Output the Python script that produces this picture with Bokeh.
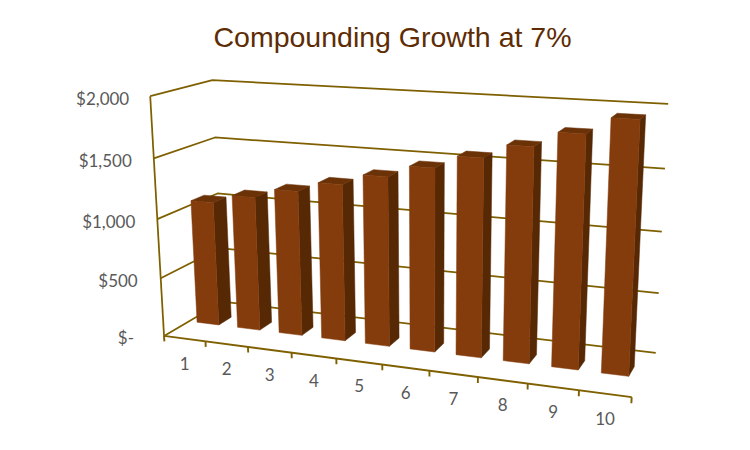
import numpy as np
from bokeh.plotting import figure
from bokeh.models import Range1d, ColumnDataSource
from bokeh.core.properties import value
from bokeh.embed import file_html
from bokeh.resources import INLINE

# ---- chart data ----
categories = ["1", "2", "3", "4", "5", "6", "7", "8", "9", "10"]
balances = [1070, 1145, 1225, 1311, 1403, 1501, 1606, 1718, 1838, 1967]
y_ticks = [0, 500, 1000, 1500, 2000]
y_labels = ["$-", "$500", "$1,000", "$1,500", "$2,000"]
title_text = "Compounding Growth at 7%"

# ---- camera calibration: (slot, amount, depth) -> picture position ----
calib_world = [
    (0, 0, 0), (0, 500, 0), (0, 1000, 0), (0, 1500, 0), (0, 2000, 0),
    (0, 0, 1), (0, 1000, 1), (0, 1500, 1), (0, 2000, 1),
    (10, 0, 1), (10, 500, 1), (10, 1000, 1), (10, 1500, 1), (10, 2000, 1),
    (1, 0, 0), (2, 0, 0), (3, 0, 0), (4, 0, 0), (5, 0, 0),
    (6, 0, 0), (7, 0, 0), (8, 0, 0), (9, 0, 0), (10, 0, 0),
]
calib_image = [
    (163, 336), (160, 277), (157, 218), (154, 158), (150, 96),
    (223, 302), (217, 192), (214, 137), (211, 80),
    (655, 352.5), (658, 292), (661, 231), (665, 168), (668, 104),
    (205, 341), (247, 346.5), (291, 352), (336, 358), (382, 364),
    (429, 370), (477, 376.5), (527, 383), (579, 390), (631, 397),
]


def fit_camera(world, image):
    rows, rhs = [], []
    for (X, Y, Z), (u, v) in zip(world, image):
        Yn = Y / 1000.0
        rows.append([X, Yn, Z, 1, 0, 0, 0, 0, -u * X, -u * Yn, -u * Z])
        rhs.append(u)
        rows.append([0, 0, 0, 0, X, Yn, Z, 1, -v * X, -v * Yn, -v * Z])
        rhs.append(v)
    sol = np.linalg.lstsq(np.array(rows, float), np.array(rhs, float), rcond=None)[0]
    return np.append(sol, 1.0).reshape(3, 4)


CAM = fit_camera(calib_world, calib_image)


def proj(s, amount, depth):
    h = CAM @ np.array([s, amount / 1000.0, depth, 1.0])
    return float(h[0] / h[2]), float(h[1] / h[2])


# ---- figure in picture coordinates ----
p = figure(width=750, height=450, output_backend="svg", toolbar_location=None,
           x_range=Range1d(0, 750), y_range=Range1d(450, 0), min_border=0,
           outline_line_color=None, background_fill_color="white", border_fill_color="white")
p.axis.visible = False
p.grid.visible = False

AXIS = "#7F6000"
N = len(categories)

# walls and gridlines
gx, gy = [], []
for t in y_ticks:
    a, b, c = proj(0, t, 0), proj(0, t, 1), proj(N, t, 1)
    gx.append([a[0], b[0], c[0]])
    gy.append([a[1], b[1], c[1]])
p.multi_line(gx, gy, line_color=AXIS, line_width=1.75)

# value axis, category axis and ticks
a0, a1 = proj(0, y_ticks[0], 0), proj(0, y_ticks[-1], 0)
p.line([a0[0], a1[0]], [a0[1], a1[1]], line_color=AXIS, line_width=1.75)
b1 = proj(N, 0, 0)
p.line([a0[0], b1[0]], [a0[1], b1[1]], line_color=AXIS, line_width=1.9)
tx, ty = [], []
for i in range(N + 1):
    u = proj(i, 0, 0)
    v = proj(i, -48, 0)
    tx.append([u[0], v[0]])
    ty.append([u[1], v[1]])
p.multi_line(tx, ty, line_color=AXIS, line_width=1.9)

# bars
S0, S1, D0, D1 = 0.20, 0.74, 0.41, 0.63
for i, val in enumerate(balances):
    fl0, fr0 = proj(i + S0, 0, D0), proj(i + S1, 0, D0)
    fl1, fr1 = proj(i + S0, val, D0), proj(i + S1, val, D0)
    br0, br1 = proj(i + S1, 0, D1), proj(i + S1, val, D1)
    bl1 = proj(i + S0, val, D1)
    side = [fr0, br0, br1, fr1]
    top = [fl1, fr1, br1, bl1]
    front = [fl0, fr0, fr1, fl1]
    p.patch([q[0] for q in side], [q[1] for q in side], fill_color="#562804", line_color="#562804", line_width=0.5)
    p.patch([q[0] for q in top], [q[1] for q in top], fill_color="#6B3208", line_color="#6B3208", line_width=0.5)
    p.patch([q[0] for q in front], [q[1] for q in front], fill_color="#843C0C", line_color="#843C0C", line_width=0.5)

# value labels
offs = [-30, -23, -22, -22, -21]
ly = ColumnDataSource(dict(
    x=[proj(0, t, 0)[0] + o for t, o in zip(y_ticks, offs)],
    y=[proj(0, t, 0)[1] + 2 for t in y_ticks],
    text=y_labels))
p.text("x", "y", "text", source=ly, text_font=value("Lato"), text_font_size="17px",
       text_color="#595959", text_align="right", text_baseline="middle")

# category labels
lx = ColumnDataSource(dict(
    x=[proj(i + 0.5, 0, 0)[0] for i in range(N)],
    y=[proj(i + 0.5, 0, 0)[1] + 24.5 for i in range(N)],
    text=categories))
p.text("x", "y", "text", source=lx, text_font=value("Lato"), text_font_size="17px",
       text_color="#595959", text_align="center", text_baseline="middle")

# title
p.text([392], [36], text=[title_text], text_font=value("Liberation Sans"), text_font_size="28.5px",
       text_color="#5E2C04", text_align="center", text_baseline="middle")

open("out.html", "w").write(file_html(p, INLINE))
